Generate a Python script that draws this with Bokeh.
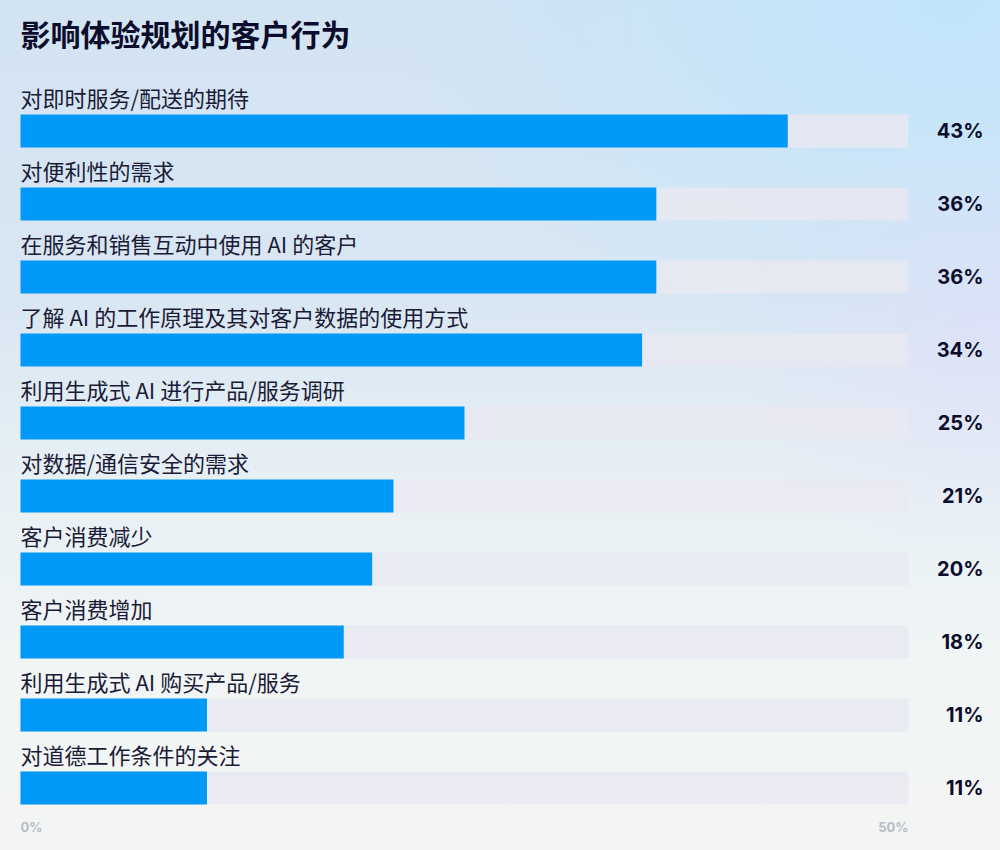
from bokeh.plotting import figure
from bokeh.models import ColumnDataSource, Range1d
from bokeh.core.properties import value
from bokeh.embed import file_html
from bokeh.resources import INLINE

# data
categories = [
    "对即时服务/配送的期待",
    "对便利性的需求",
    "在服务和销售互动中使用 AI 的客户",
    "了解 AI 的工作原理及其对客户数据的使用方式",
    "利用生成式 AI 进行产品/服务调研",
    "对数据/通信安全的需求",
    "客户消费减少",
    "客户消费增加",
    "利用生成式 AI 购买产品/服务",
    "对道德工作条件的关注",
]
bar_values = [43.2, 35.8, 35.8, 35.0, 25.0, 21.0, 19.8, 18.2, 10.5, 10.5]
value_labels = ["43%", "36%", "36%", "34%", "25%", "21%", "20%", "18%", "11%", "11%"]
axis_max = 50
tick_values = [0, 50]
tick_labels = ["0%", "50%"]
title = "影响体验规划的客户行为"

CJK = "Noto Sans CJK SC"
NAVY = "#0c0d2c"

idx = list(range(len(categories)))

p = figure(width=1000, height=850, output_backend="svg", toolbar_location=None,
           x_range=Range1d(-1.126, 55.18), y_range=Range1d(9.856, -1.788),
           min_border=0, tools="")
p.axis.visible = False
p.grid.visible = False
p.outline_line_color = None
p.background_fill_alpha = 0
p.border_fill_alpha = 0
p.styles = {
    "background-image": (
        "radial-gradient(ellipse 28% 26% at 100% 40%, rgba(224,222,250,0.6) 0%, rgba(224,222,250,0) 100%),"
        "radial-gradient(ellipse 55% 45% at 95% 0%, rgba(194,229,252,1) 0%, rgba(194,229,252,0) 100%),"
        "linear-gradient(180deg, #d2e3f2 0%, #d9e7f3 35%, #e9f1f5 60%, #f1f5f5 80%, #f3f5f4 100%)"
    )
}

src = ColumnDataSource(dict(
    y=idx,
    label_y=[i - 0.46 for i in idx],
    value=bar_values,
    cat=categories,
    txt=value_labels,
    track=[axis_max] * len(idx),
))

# grey track, then the blue bar
p.hbar(y="y", left=0, right="track", height=0.452, source=src,
       fill_color="#e9e9f1", fill_alpha=0.85, line_color=None)
p.hbar(y="y", left=0, right="value", height=0.452, source=src,
       fill_color="#0099f7", line_color=None)

p.text(x=0, y="label_y", text="cat", source=src, text_font=value(CJK),
       text_font_size="22px", text_color="#1b1b36", text_baseline="middle",
       text_align="left")
p.text(x=54.22, y="y", text="txt", source=src, text_font=value("Inter"),
       text_font_style="bold", text_font_size="20px", text_color=NAVY,
       text_baseline="middle", text_align="right")

# title
p.text(x=[0], y=[-1.34], text=[title], text_font=value(CJK), text_font_style="bold",
       text_font_size="30px", text_color=NAVY, text_baseline="middle", text_align="left")

# tick labels under the tracks
p.text(x=tick_values, y=[9.54] * len(tick_values), text=tick_labels,
       text_font=value("Inter"), text_font_style="bold", text_font_size="13px",
       text_color="#b8bcc6", text_baseline="middle",
       text_align=["left", "right"])

open("out.html", "w").write(file_html(p, INLINE))
